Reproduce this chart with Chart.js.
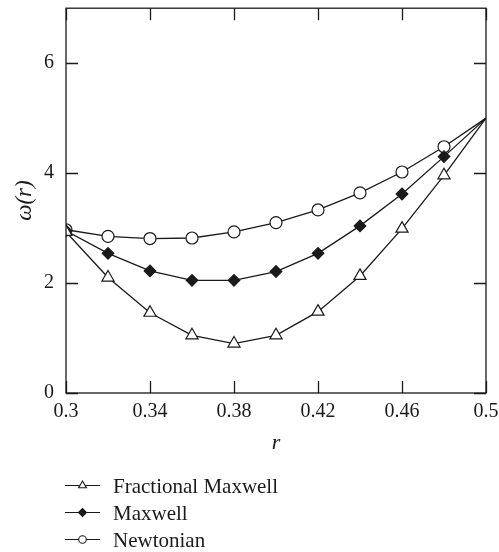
<!DOCTYPE html>
<html>
<head>
<meta charset="utf-8">
<style>
  html, body { margin: 0; padding: 0; background: #ffffff; }
  #wrap { width: 499px; height: 552px; }
</style>
<script src="https://cdn.jsdelivr.net/npm/chart.js@4/dist/chart.umd.min.js"></script>
</head>
<body>
<div id="wrap"><canvas id="c" width="499" height="552"></canvas></div>
<script>
// Radial position r and the angular velocity ω(r) for the three fluid models
const radii = [0.30, 0.32, 0.34, 0.36, 0.38, 0.40, 0.42, 0.44, 0.46, 0.48, 0.50];
const fractionalMaxwell = [2.93, 2.10, 1.46, 1.05, 0.90, 1.05, 1.48, 2.13, 2.99, 3.96, 5.00];
const maxwell = [2.95, 2.54, 2.22, 2.05, 2.05, 2.21, 2.54, 3.04, 3.62, 4.30, 5.00];
const newtonian = [2.97, 2.85, 2.81, 2.82, 2.93, 3.10, 3.33, 3.64, 4.02, 4.48, 5.00];

const seriesLabels = ['Fractional Maxwell', 'Maxwell', 'Newtonian'];

const xTickValues = [0.3, 0.34, 0.38, 0.42, 0.46, 0.5];
const xTickLabels = ['0.3', '0.34', '0.38', '0.42', '0.46', '0.5'];
const yTickValues = [0, 2, 4, 6];
const yTickLabels = ['0', '2', '4', '6'];

const INK = '#1a1a1a';
const SERIF = "'Liberation Serif', 'DejaVu Serif', serif";

function toPoints(values) {
  return radii.map((r, i) => ({ x: r, y: values[i] }));
}
// The wall point r = 0.5 carries no marker
function markerSizes(size) {
  return radii.map((r, i) => (i === radii.length - 1 ? 0 : size));
}

const styles = [
  { pointStyle: 'triangle', radius: 7, legendRadius: 4.5, fill: '#ffffff' },
  { pointStyle: 'rectRot', radius: 5.8, legendRadius: 4, fill: INK },
  { pointStyle: 'circle', radius: 6, legendRadius: 3.8, fill: '#ffffff' }
];
const seriesValues = [fractionalMaxwell, maxwell, newtonian];

const datasets = seriesValues.map((vals, k) => ({
  label: seriesLabels[k],
  data: toPoints(vals),
  borderColor: INK,
  borderWidth: 1.3,
  tension: 0,
  fill: false,
  pointStyle: styles[k].pointStyle,
  pointRadius: markerSizes(styles[k].radius),
  pointHoverRadius: markerSizes(styles[k].radius),
  pointBackgroundColor: styles[k].fill,
  pointBorderColor: INK,
  pointBorderWidth: 1.2
}));

// Frame with inward tick marks on all four sides
const framePlugin = {
  id: 'frame',
  afterDatasetsDraw(chart) {
    const { ctx, chartArea: a, scales } = chart;
    const tick = 12;
    ctx.save();
    ctx.strokeStyle = INK;
    ctx.lineWidth = 1.3;
    ctx.strokeRect(a.left, a.top, a.right - a.left, a.bottom - a.top);
    ctx.beginPath();
    xTickValues.forEach(v => {
      const px = Math.round(scales.x.getPixelForValue(v)) + 0.5;
      ctx.moveTo(px, a.bottom); ctx.lineTo(px, a.bottom - tick);
      ctx.moveTo(px, a.top); ctx.lineTo(px, a.top + tick);
    });
    yTickValues.forEach(v => {
      const py = Math.round(scales.y.getPixelForValue(v)) + 0.5;
      ctx.moveTo(a.left, py); ctx.lineTo(a.left + tick, py);
      ctx.moveTo(a.right, py); ctx.lineTo(a.right - tick, py);
    });
    ctx.stroke();
    ctx.restore();
  }
};

// Stacked legend below the plot: short line, marker, label
const stackedLegend = {
  id: 'stackedLegend',
  afterDraw(chart) {
    const { ctx, chartArea: a } = chart;
    const x0 = a.left - 1, x1 = a.left + 34, xm = (x0 + x1) / 2, xt = a.left + 47;
    const rows = [a.bottom + 92, a.bottom + 119, a.bottom + 146];
    ctx.save();
    ctx.font = '21px ' + SERIF;
    ctx.textBaseline = 'alphabetic';
    ctx.textAlign = 'left';
    chart.data.datasets.forEach((ds, k) => {
      const y = rows[k];
      ctx.strokeStyle = INK;
      ctx.lineWidth = 1.2;
      ctx.beginPath();
      ctx.moveTo(x0, y + 0.5); ctx.lineTo(x1, y + 0.5);
      ctx.stroke();
      ctx.fillStyle = styles[k].fill;
      ctx.strokeStyle = INK;
      ctx.lineWidth = 1.1;
      Chart.helpers.drawPoint(ctx, {
        pointStyle: styles[k].pointStyle,
        radius: styles[k].legendRadius,
        rotation: 0,
        borderWidth: 1.1
      }, xm, y + 0.5);
      ctx.fillStyle = INK;
      ctx.fillText(ds.label, xt, y + 8);
    });
    ctx.restore();
  }
};

// Keep the plot box fixed: no extra room for overhanging edge labels
function noEdgePadding(scale) {
  scale.paddingTop = 0;
  scale.paddingBottom = 0;
  scale.paddingLeft = 0;
  scale.paddingRight = 0;
}

new Chart(document.getElementById('c'), {
  type: 'line',
  data: { datasets },
  plugins: [framePlugin, stackedLegend],
  options: {
    responsive: false,
    devicePixelRatio: 1,
    animation: false,
    events: [],
    layout: { padding: { top: 8, right: 13, left: 0, bottom: 96 } },
    plugins: { legend: { display: false }, tooltip: { enabled: false } },
    scales: {
      x: {
        type: 'linear',
        min: 0.3,
        max: 0.5,
        afterFit(scale) { scale.height = 63; noEdgePadding(scale); },
        afterBuildTicks(scale) { scale.ticks = xTickValues.map(v => ({ value: v })); },
        grid: { display: false, drawTicks: false },
        border: { display: false },
        ticks: {
          padding: 7,
          color: INK,
          font: { family: SERIF, size: 20 },
          maxRotation: 0,
          autoSkip: false,
          callback: (v, i) => xTickLabels[i]
        },
        title: {
          display: true,
          text: 'r',
          color: INK,
          font: { family: SERIF, size: 22, style: 'italic' },
          padding: { top: 0, bottom: 0 }
        }
      },
      y: {
        type: 'linear',
        min: 0,
        max: 7,
        afterFit(scale) { scale.width = 66; noEdgePadding(scale); },
        afterBuildTicks(scale) { scale.ticks = yTickValues.map(v => ({ value: v })); },
        grid: { display: false, drawTicks: false },
        border: { display: false },
        ticks: {
          padding: 12,
          color: INK,
          font: { family: SERIF, size: 20 },
          autoSkip: false,
          callback: (v, i) => yTickLabels[i]
        },
        title: {
          display: true,
          text: 'ω(r)',
          color: INK,
          font: { family: SERIF, size: 23, style: 'italic' },
          padding: { top: 11, bottom: 0 }
        }
      }
    }
  }
});
</script>
</body>
</html>
